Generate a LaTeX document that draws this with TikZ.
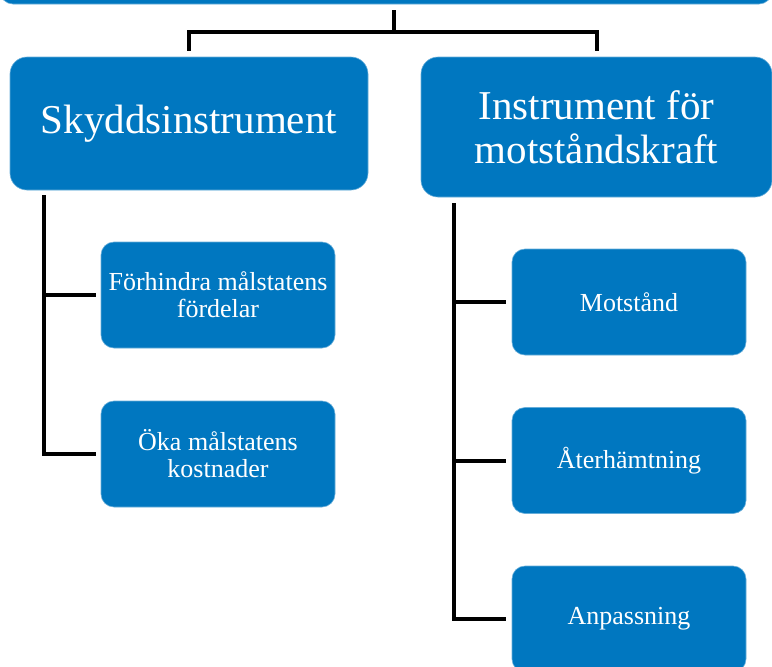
\documentclass[tikz,border=0pt]{standalone}
\usepackage{fontspec}
\setmainfont{Liberation Serif}
\definecolor{boxblue}{RGB}{0,119,192}
\tikzset{
	box/.style={draw=boxblue!60!white, line width=0.6pt, fill=boxblue, text=white,
		rounded corners=13pt, inner sep=0pt, align=center},
	bigbox/.style={box, rounded corners=17pt, font=\fontsize{41}{44}\selectfont},
	smallbox/.style={box, minimum width=234pt, minimum height=106pt,
		font=\fontsize{26}{27}\selectfont},
	link/.style={line width=4pt, black}
}
\begin{document}
\begin{tikzpicture}[x=1pt,y=-1pt]
		\useasboundingbox (0,0) rectangle (772,667);
		\clip (0,0) rectangle (772,667);

		\node[box, minimum width=772pt, minimum height=40pt] (top) at (386,-16) {};

		\node[bigbox, minimum width=358pt, minimum height=133pt] (skydd) at (189,123.5) {Skyddsinstrument};
		\node[bigbox, minimum width=351pt, minimum height=140pt] (motst) at (596.5,127) {Instrument för\\motståndskraft};

		\node[smallbox] (forhindra) at (218,295) {Förhindra målstatens\\fördelar};
		\node[smallbox] (oka) at (218,454) {Öka målstatens\\kostnader};

		\node[smallbox] (motstand) at (629,302) {Motstånd};
		\node[smallbox] (aterh) at (629,460.5) {Återhämtning};
		\node[smallbox] (anpass) at (629,619) {Anpassning};

		\coordinate (bar) at ([xshift=8pt,yshift=-28pt]top.south);
		\coordinate (trunkL) at ([xshift=34pt]skydd.south west);
		\coordinate (trunkR) at ([xshift=33pt]motst.south west);

		\draw[link, shorten <=6pt] ([xshift=8pt]top.south) -- (bar);
		\draw[link, shorten <=6pt, shorten >=6pt] (skydd.north) |- (bar) -| (motst.north);

		\draw[link, shorten <=5pt, shorten >=5pt] (trunkL) |- (oka.west);
		\draw[link, shorten >=5pt] (trunkL |- forhindra.west) -- (forhindra.west);

		\draw[link, shorten <=6pt, shorten >=6pt] (trunkR) |- (anpass.west);
		\draw[link, shorten >=6pt] (trunkR |- motstand.west) -- (motstand.west);
		\draw[link, shorten >=6pt] (trunkR |- aterh.west) -- (aterh.west);
	\end{tikzpicture}
\end{document}
